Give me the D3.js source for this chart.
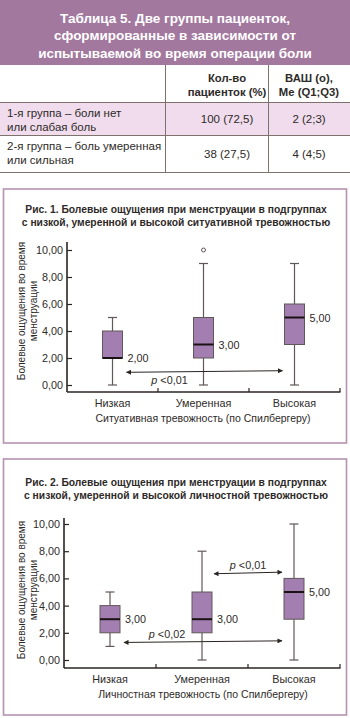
<!DOCTYPE html>
<html><head><meta charset="utf-8">
<script src="https://cdn.jsdelivr.net/npm/d3@7/dist/d3.min.js"></script>
<style>
html,body{margin:0;padding:0;background:#fff;}
svg{display:block;font-family:"Liberation Sans",Arial,Helvetica,sans-serif;}
</style></head>
<body><svg id="c" width="350" height="718"></svg>
<script>
// ---- Table data ----
const tableTitle = ["Таблица 5. Две группы пациенток,", "сформированные в зависимости от", "испытываемой во время операции боли"];
const colHead1 = ["Кол-во", "пациенток (%)"];
const colHead2 = ["ВАШ (о),", "Ме (Q1;Q3)"];
const rowLabels = [["1-я группа – боли нет", "или слабая боль"], ["2-я группа – боль умеренная", "или сильная"]];
const patientCounts = ["100 (72,5)", "38 (27,5)"];
const vasValues = ["2 (2;3)", "4 (4;5)"];

// ---- Chart data ----
const categories = ["Низкая", "Умеренная", "Высокая"];
const yTicks = [0, 2, 4, 6, 8, 10];
const yTitle = ["Болевые ощущения во время", "менструации"];

const fig1Title = ["Рис. 1. Болевые ощущения при менструации в подгруппах", "с низкой, умеренной и высокой ситуативной тревожностью"];
const fig1XTitle = "Ситуативная тревожность (по Спилбергеру)";
const fig1Min = [0, 0, 0];
const fig1Q1 = [2, 2, 3];
const fig1Median = [2, 3, 5];
const fig1Q3 = [4, 5, 6];
const fig1Max = [5, 9, 9];
const fig1Outliers = [[], [10], []];
const fig1Pvalues = [{from: 0, to: 2, y: 1.0, text: "<0,01", above: false}];

const fig2Title = ["Рис. 2. Болевые ощущения при менструации в подгруппах", "с низкой, умеренной и высокой личностной тревожностью"];
const fig2XTitle = "Личностная тревожность (по Спилбергеру)";
const fig2Min = [1, 0, 0];
const fig2Q1 = [2, 2, 3];
const fig2Median = [3, 3, 5];
const fig2Q3 = [4, 5, 6];
const fig2Max = [5, 8, 10];
const fig2Outliers = [[], [], []];
const fig2Pvalues = [
  {from: 0, to: 2, y: 1.35, text: "<0,02", above: true},
  {from: 1, to: 2, y: 6.4, text: "<0,01", above: true}
];

const svg = d3.select("#c");
const TXT = "#2e2a28";
const HEAD = "#a3789f";
const PINK = "#f0dcec";
const LINE = "#7d726c";
const BORDER = "#b592b0";
const BOXFILL = "#a27fb0";
const BOXSTROKE = "#625758";

// defs: arrow marker
const defs = svg.append("defs");
defs.append("marker").attr("id", "arr").attr("viewBox", "0 0 10 10")
  .attr("refX", 9).attr("refY", 5).attr("markerWidth", 8).attr("markerHeight", 5)
  .attr("markerUnits", "userSpaceOnUse").attr("orient", "auto-start-reverse")
  .append("path").attr("d", "M0,0 L10,5 L0,10 z").attr("fill", "#2b2522");

// ---------- TABLE ----------
svg.append("rect").attr("x", 0).attr("y", 0).attr("width", 350).attr("height", 65).attr("fill", HEAD);
svg.append("g").selectAll("text").data(tableTitle).join("text")
  .attr("x", 175).attr("y", (d, i) => 22.5 + i * 17.5)
  .attr("text-anchor", "middle").attr("fill", "#fff")
  .attr("font-size", 13.5).attr("font-weight", "bold").text(d => d);

svg.append("rect").attr("x", 0).attr("y", 102).attr("width", 350).attr("height", 33).attr("fill", PINK);

const col1X = 227, col2X = 309;
[colHead1, colHead2].forEach((lines, c) => {
  svg.append("g").selectAll("text").data(lines).join("text")
    .attr("x", c === 0 ? col1X : col2X).attr("y", (d, i) => 82 + i * 13.5)
    .attr("text-anchor", "middle").attr("fill", TXT)
    .attr("font-size", 11.3).attr("font-weight", "bold").text(d => d);
});
const rowTop = [102, 135];
const rowH = [33, 37];
rowLabels.forEach((lines, r) => {
  svg.append("g").selectAll("text").data(lines).join("text")
    .attr("x", 7).attr("y", (d, i) => rowTop[r] + 15 + i * 13.5)
    .attr("fill", TXT).attr("font-size", 11.5).text(d => d);
  svg.append("text").attr("x", col1X).attr("y", rowTop[r] + rowH[r] / 2 + 4)
    .attr("text-anchor", "middle").attr("fill", TXT).attr("font-size", 11.5).text(patientCounts[r]);
  svg.append("text").attr("x", col2X).attr("y", rowTop[r] + rowH[r] / 2 + 4)
    .attr("text-anchor", "middle").attr("fill", TXT).attr("font-size", 11.5).text(vasValues[r]);
});
[102, 135, 172].forEach(y => {
  svg.append("line").attr("x1", 0).attr("x2", 350).attr("y1", y + 0.5).attr("y2", y + 0.5)
    .attr("stroke", LINE).attr("stroke-width", 1);
});
[165, 268].forEach(x => {
  svg.append("line").attr("x1", x + 0.5).attr("x2", x + 0.5).attr("y1", 65).attr("y2", 172)
    .attr("stroke", LINE).attr("stroke-width", 1);
});

// ---------- BOX PLOT PANELS ----------
function drawPanel(o) {
  const g = svg.append("g");
  g.append("rect").attr("x", 3.5).attr("y", o.top).attr("width", 343).attr("height", o.bottom - o.top)
    .attr("fill", "none").attr("stroke", BORDER).attr("stroke-width", 1.6);
  g.selectAll("text.t").data(o.title).join("text").attr("class", "t")
    .attr("x", 176).attr("y", (d, i) => o.titleY + i * 13)
    .attr("text-anchor", "middle").attr("fill", TXT).attr("font-size", 10.3).attr("font-weight", "bold")
    .text(d => d);

  const y = d3.scaleLinear().domain([0, 10]).range([o.y0, o.y10]);
  const x = d3.scaleBand().domain(categories).range([o.axisX, 340]);
  const bw = 20;

  // y axis
  const ya = g.append("g").attr("transform", `translate(${o.axisX},0)`)
    .call(d3.axisRight(y).tickValues(yTicks).tickSize(5).tickFormat(d => d3.format(".2f")(d).replace(".", ",")));
  ya.select(".domain").remove();
  ya.selectAll(".tick line").attr("stroke", "#2b2522").attr("stroke-width", 1.2);
  ya.selectAll(".tick text").attr("x", -4).attr("text-anchor", "end")
    .attr("font-size", 10.8).attr("fill", TXT).attr("font-family", "Liberation Sans, Arial, sans-serif");
  g.append("line").attr("x1", o.axisX).attr("x2", o.axisX).attr("y1", o.axisTop).attr("y2", o.axisY)
    .attr("stroke", "#2b2522").attr("stroke-width", 1.6);

  // x axis
  g.append("line").attr("x1", o.axisX).attr("x2", 340.5).attr("y1", o.axisY).attr("y2", o.axisY)
    .attr("stroke", "#2b2522").attr("stroke-width", 1.6);
  const xb = [x.step(), 2 * x.step(), 3 * x.step()].map(s => o.axisX + s);
  g.selectAll("line.xt").data(xb).join("line").attr("class", "xt")
    .attr("x1", d => d).attr("x2", d => d).attr("y1", o.axisY).attr("y2", o.axisY - 4)
    .attr("stroke", "#2b2522").attr("stroke-width", 1.2);
  g.selectAll("text.cat").data(categories).join("text").attr("class", "cat")
    .attr("x", d => x(d) + x.bandwidth() / 2).attr("y", o.axisY + 15)
    .attr("text-anchor", "middle").attr("fill", TXT).attr("font-size", 10.8).text(d => d);
  g.append("text").attr("x", 203).attr("y", o.axisY + 30).attr("text-anchor", "middle")
    .attr("fill", TXT).attr("font-size", 10.5).text(o.xTitle);

  // y title
  yTitle.forEach((t, i) => {
    g.append("text").attr("transform", `translate(${25 + i * 12},${o.yTitleC}) rotate(-90)`)
      .attr("text-anchor", "middle").attr("fill", TXT).attr("font-size", 10).text(t);
  });

  // boxes
  categories.forEach((c, i) => {
    const cx = x(c) + x.bandwidth() / 2;
    const wg = g.append("g");
    wg.append("line").attr("x1", cx).attr("x2", cx).attr("y1", y(o.max[i])).attr("y2", y(o.q3[i]))
      .attr("stroke", BOXSTROKE).attr("stroke-width", 1.2);
    wg.append("line").attr("x1", cx).attr("x2", cx).attr("y1", y(o.q1[i])).attr("y2", y(o.min[i]))
      .attr("stroke", BOXSTROKE).attr("stroke-width", 1.2);
    [o.max[i], o.min[i]].forEach(v => {
      wg.append("line").attr("x1", cx - 4.5).attr("x2", cx + 4.5).attr("y1", y(v)).attr("y2", y(v))
        .attr("stroke", BOXSTROKE).attr("stroke-width", 1.2);
    });
    wg.append("rect").attr("x", cx - bw / 2).attr("y", y(o.q3[i])).attr("width", bw)
      .attr("height", y(o.q1[i]) - y(o.q3[i])).attr("fill", BOXFILL)
      .attr("stroke", BOXSTROKE).attr("stroke-width", 1);
    wg.append("line").attr("x1", cx - bw / 2).attr("x2", cx + bw / 2)
      .attr("y1", y(o.median[i])).attr("y2", y(o.median[i])).attr("stroke", "#1a1214").attr("stroke-width", 2);
    wg.append("text").attr("x", cx + bw / 2 + 5).attr("y", y(o.median[i]) + 4)
      .attr("fill", TXT).attr("font-size", 10.8).text(d3.format(".2f")(o.median[i]).replace(".", ","));
    o.outliers[i].forEach(v => {
      wg.append("circle").attr("cx", cx).attr("cy", y(v)).attr("r", 2)
        .attr("fill", "#fff").attr("stroke", BOXSTROKE).attr("stroke-width", 1);
    });
  });

  // p-value arrows
  o.pvals.forEach(p => {
    const xc = i => x(categories[i]) + x.bandwidth() / 2;
    const x1 = xc(p.from) + (p.from === 0 ? 14 : 12);
    const x2 = xc(p.to) - 12;
    const yy = y(p.y);
    g.append("line").attr("x1", x1).attr("x2", x2).attr("y1", yy + 0.8).attr("y2", yy - 0.8)
      .attr("stroke", "#2b2522").attr("stroke-width", 1)
      .attr("marker-start", "url(#arr)").attr("marker-end", "url(#arr)");
    const t = g.append("text").attr("x", p.from === 0 ? x1 + 43 : (x1 + x2) / 2)
      .attr("y", p.above ? yy - 4 : yy + 12).attr("text-anchor", "middle")
      .attr("fill", TXT).attr("font-size", 10.8);
    t.append("tspan").attr("font-style", "italic").text("p ");
    t.append("tspan").text(p.text);
  });
}

drawPanel({
  top: 189, bottom: 443, titleY: 213, title: fig1Title, xTitle: fig1XTitle,
  axisX: 67, axisTop: 242, axisY: 392, y0: 385, y10: 250, yTitleC: 311,
  min: fig1Min, q1: fig1Q1, median: fig1Median, q3: fig1Q3, max: fig1Max, outliers: fig1Outliers, pvals: fig1Pvalues
});
drawPanel({
  top: 459, bottom: 715, titleY: 486, title: fig2Title, xTitle: fig2XTitle,
  axisX: 64, axisTop: 518, axisY: 668, y0: 660, y10: 524, yTitleC: 590,
  min: fig2Min, q1: fig2Q1, median: fig2Median, q3: fig2Q3, max: fig2Max, outliers: fig2Outliers, pvals: fig2Pvalues
});
</script></body></html>
